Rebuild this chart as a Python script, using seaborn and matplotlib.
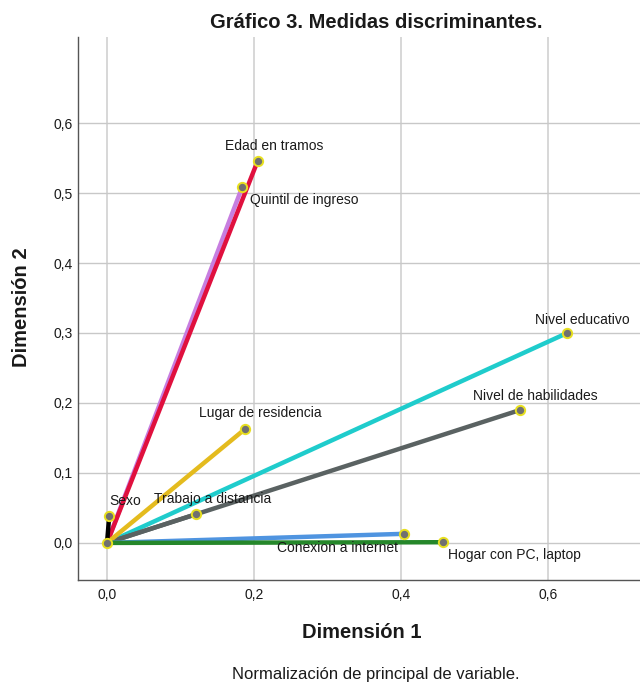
import matplotlib
matplotlib.use("Agg")
import matplotlib.pyplot as plt
import seaborn as sns
import pandas as pd
from matplotlib.ticker import FuncFormatter

variables = ["Quintil de ingreso", "Edad en tramos", "Nivel educativo", "Trabajo a distancia",
             "Nivel de habilidades", "Lugar de residencia", "Conexion a internet",
             "Hogar con PC, laptop", "Sexo"]
dim1 = [0.184, 0.205, 0.626, 0.121, 0.562, 0.188, 0.404, 0.457, 0.003]
dim2 = [0.509, 0.546, 0.300, 0.041, 0.190, 0.163, 0.013, 0.001, 0.039]
colors = ["#c77ee0", "#e0103e", "#1fcccc", "#5e6464", "#5a6262", "#e4bb1e",
          "#4f94e0", "#25872a", "#000000"]
xticks = [0.0, 0.2, 0.4, 0.6]
yticks = [0.0, 0.1, 0.2, 0.3, 0.4, 0.5, 0.6]

sns.set_theme(style="white")
plt.rcParams["font.family"] = ["Liberation Sans", "DejaVu Sans"]

rows = []
for v, x, y in zip(variables, dim1, dim2):
    rows.append({"var": v, "order": 0, "d1": 0.0, "d2": 0.0})
    rows.append({"var": v, "order": 1, "d1": x, "d2": y})
df = pd.DataFrame(rows)
pts = pd.DataFrame({"var": variables, "d1": dim1, "d2": dim2})

fig = plt.figure(figsize=(6.4, 6.84), dpi=100)
ax = fig.add_axes([78/640, 1-580/684, 1-78/640, (580-37)/684])

for x in xticks:
    ax.axvline(x, color="#d4d4d4", lw=1.3, zorder=0)
for y in yticks:
    ax.axhline(y, color="#c8c8c8", lw=1.0, zorder=0)

sns.lineplot(data=df, x="d1", y="d2", hue="var", hue_order=variables,
             palette=dict(zip(variables, colors)), sort=False, estimator=None,
             linewidth=3.2, legend=False, ax=ax, zorder=3)
sns.scatterplot(data=pts, x="d1", y="d2", color="#707070", edgecolor="#e8e020",
                linewidth=1.4, s=45, legend=False, ax=ax, zorder=4)
ax.scatter([0], [0], s=45, color="#707070", edgecolor="#e8e020", linewidth=1.4, zorder=5)

labels = {
    "Edad en tramos": (0.227, 0.567),
    "Quintil de ingreso": (0.268, 0.490),
    "Nivel educativo": (0.646, 0.319),
    "Nivel de habilidades": (0.582, 0.210),
    "Lugar de residencia": (0.208, 0.186),
    "Trabajo a distancia": (0.143, 0.063),
    "Sexo": (0.025, 0.060),
    "Conexion a internet": (0.314, -0.007),
    "Hogar con PC, laptop": (0.554, -0.017),
}
for name, (x, y) in labels.items():
    ax.text(x, y, name, ha="center", va="center", fontsize=10, color="#1a1a1a", zorder=6)

ax.set_xlim(-0.0395, 0.725)
ax.set_ylim(-0.053, 0.723)
ax.set_xticks(xticks)
ax.set_yticks(yticks)
fmt = FuncFormatter(lambda v, p: f"{v:.1f}".replace(".", ","))
ax.xaxis.set_major_formatter(fmt)
ax.yaxis.set_major_formatter(fmt)
ax.tick_params(axis="both", length=0, labelsize=10, colors="#1a1a1a")
ax.tick_params(axis="y", pad=4)
ax.tick_params(axis="x", pad=6)
for s in ["top", "right"]:
    ax.spines[s].set_visible(False)
for s in ["left", "bottom"]:
    ax.spines[s].set_color("#555555")
    ax.spines[s].set_linewidth(1.0)
ax.set_xlabel("")
ax.set_ylabel("")

fig.text(376/640, 1-22/684, "Gráfico 3. Medidas discriminantes.", ha="center", va="center",
         fontsize=14.5, fontweight="bold", color="#1a1a1a")
fig.text(362/640, 1-633/684, "Dimensión 1", ha="center", va="center",
         fontsize=14.5, fontweight="bold", color="#1a1a1a")
fig.text(22/640, 1-307/684, "Dimensión 2", ha="center", va="center", rotation=90,
         fontsize=14.5, fontweight="bold", color="#1a1a1a")
fig.text(376/640, 1-675/684, "Normalización de principal de variable.", ha="center", va="center",
         fontsize=12, color="#1a1a1a")

fig.savefig("out.png", dpi=100)
